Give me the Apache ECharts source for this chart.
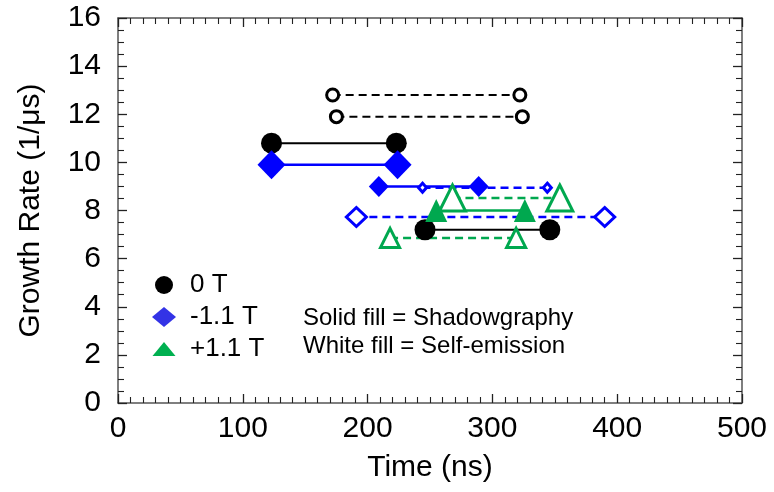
<!DOCTYPE html>
<html>
<head>
<meta charset="utf-8">
<script src="https://cdn.jsdelivr.net/npm/echarts@6/dist/echarts.min.js"></script>
<style>
html,body{margin:0;padding:0;background:#fff;}
#chart{width:774px;height:492px;}
</style>
</head>
<body>
<div id="chart"></div>
<script>
// ---- data (Time in ns, Growth rate in 1/us) ----
const xTicks = [0, 100, 200, 300, 400, 500];
const yTicks = [0, 2, 4, 6, 8, 10, 12, 14, 16];
const legendNames = ['0 T', '-1.1 T', '+1.1 T'];
const noteLines = ['Solid fill = Shadowgraphy', 'White fill = Self-emission'];

// 0 T
const zeroShadowA = [[123, 10.8], [223, 10.8]];
const zeroShadowB = [[246, 7.2], [346, 7.2]];
const zeroSelfA = [[172, 12.8], [322, 12.8]];
const zeroSelfB = [[175, 11.9], [324, 11.9]];
// -1.1 T
const negShadowA = [[123, 9.9], [224, 9.9]];
const negShadowB = [[209, 9.0], [289, 9.0]];
const negSelfA = [[244, 8.95], [344, 8.95]];
const negSelfB = [[191, 7.73], [390, 7.73]];
// +1.1 T
const posShadow = [[255, 8.0], [326, 8.0]];
const posSelfA = [[268, 8.52], [354, 8.52]];
const posSelfB = [[218, 6.86], [319, 6.86]];

const FONT = 'Liberation Sans, Arial, sans-serif';
const BLACK = '#000000', BLUE = '#0000ff', GREEN = '#00a84f';

function seg(name, data, color, solid, symbol, size, filled, lw) {
  return {
    type: 'line', name: name, data: data,
    symbol: symbol, symbolSize: size,
    showSymbol: true, silent: true,
    itemStyle: filled ? {color: color, borderWidth: 0} : {color: '#ffffff', borderColor: color, borderWidth: 3},
    lineStyle: {color: color, width: lw, type: solid ? 'solid' : [8, 5]},
    emphasis: {disabled: true}
  };
}

const axisCommon = {
  axisLine: {show: true, onZero: false, lineStyle: {color: '#555', width: 1.5}},
  axisTick: {show: true, inside: true, length: 9, lineStyle: {color: '#222', width: 1.3}},
  minorTick: {show: true, length: 6, lineStyle: {color: '#222', width: 1.1}},
  splitLine: {show: false}
};

const chart = echarts.init(document.getElementById('chart'), null, {renderer: 'canvas'});
chart.setOption({
  animation: false,
  backgroundColor: '#ffffff',
  textStyle: {fontFamily: FONT},
  grid: {left: 118, right: 32, top: 18, bottom: 89, containLabel: false},
  xAxis: [
    Object.assign({}, axisCommon, {
      type: 'value', position: 'bottom', min: xTicks[0], max: xTicks[xTicks.length - 1], interval: 100,
      minorTick: Object.assign({}, axisCommon.minorTick, {splitNumber: 10}),
      axisLabel: {fontSize: 30, color: '#000', margin: 11, fontFamily: FONT},
      name: 'Time (ns)', nameLocation: 'middle', nameGap: 50,
      nameTextStyle: {fontSize: 30, color: '#000', fontFamily: FONT}
    }),
    Object.assign({}, axisCommon, {
      type: 'value', position: 'top', min: xTicks[0], max: xTicks[xTicks.length - 1], interval: 100,
      minorTick: Object.assign({}, axisCommon.minorTick, {splitNumber: 10}),
      axisLabel: {show: false}
    })
  ],
  yAxis: [
    Object.assign({}, axisCommon, {
      type: 'value', position: 'left', min: yTicks[0], max: yTicks[yTicks.length - 1], interval: 2,
      minorTick: Object.assign({}, axisCommon.minorTick, {splitNumber: 4}),
      axisLabel: {fontSize: 30, color: '#000', margin: 17, fontFamily: FONT},
      name: 'Growth Rate (1/μs)', nameLocation: 'middle', nameGap: 72,
      nameTextStyle: {fontSize: 30, color: '#000', fontFamily: FONT}
    }),
    Object.assign({}, axisCommon, {
      type: 'value', position: 'right', min: yTicks[0], max: yTicks[yTicks.length - 1], interval: 2,
      minorTick: Object.assign({}, axisCommon.minorTick, {splitNumber: 4}),
      axisLabel: {show: false}
    })
  ],
  legend: {
    orient: 'vertical', left: 152, top: 272, padding: 0, itemGap: 6,
    itemWidth: 24, itemHeight: 20, selectedMode: false,
    textStyle: {fontSize: 26, color: '#000', fontFamily: FONT, padding: [0, 0, 0, 9]},
    data: [
      {name: legendNames[0], icon: 'path://M0,0M24,20M3,10A9,9,0,1,1,21,10A9,9,0,1,1,3,10Z', itemStyle: {color: '#000', borderWidth: 0}},
      {name: legendNames[1], icon: 'diamond', itemStyle: {color: '#3333e6', borderWidth: 0}},
      {name: legendNames[2], icon: 'path://M0,0M24,20M0.5,17L12,3L23.5,17Z', itemStyle: {color: '#00b050', borderWidth: 0}}
    ]
  },
  graphic: [
    {type: 'text', left: 303, top: 306, silent: true,
     style: {text: noteLines[0], font: '24px ' + FONT, fill: '#000'}},
    {type: 'text', left: 303, top: 334, silent: true,
     style: {text: noteLines[1], font: '24px ' + FONT, fill: '#000'}}
  ],
  series: [
    seg(legendNames[0], zeroShadowA, BLACK, true, 'circle', 21, true, 2),
    seg(legendNames[0], zeroShadowB, BLACK, true, 'circle', 21, true, 2),
    seg(legendNames[0], zeroSelfA, BLACK, false, 'circle', 12, false, 2),
    seg(legendNames[0], zeroSelfB, BLACK, false, 'circle', 12, false, 2),
    seg(legendNames[1], negShadowA, BLUE, true, 'diamond', [28, 29], true, 2.5),
    seg(legendNames[1], negShadowB, BLUE, true, 'diamond', [20, 21], true, 2.5),
    seg(legendNames[1], negSelfA, BLUE, false, 'diamond', [8, 9], false, 2.5),
    seg(legendNames[1], negSelfB, BLUE, false, 'diamond', [20, 19], false, 2.5),
    seg(legendNames[2], posShadow, GREEN, true, 'triangle', [22, 23], true, 2.5),
    seg(legendNames[2], posSelfA, GREEN, false, 'triangle', [26, 26], false, 2.5),
    seg(legendNames[2], posSelfB, GREEN, false, 'triangle', [19, 19], false, 2.5)
  ]
});
</script>
</body>
</html>
